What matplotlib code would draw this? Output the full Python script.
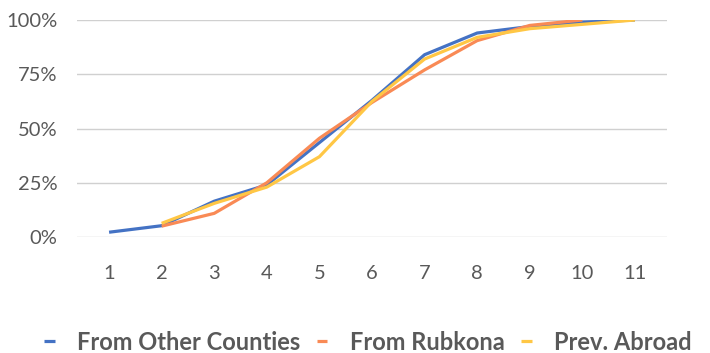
import matplotlib
matplotlib.use("Agg")
import matplotlib.pyplot as plt
from matplotlib.ticker import FuncFormatter

plt.rcParams['font.family'] = ['Lato', 'DejaVu Sans']

steps = [1, 2, 3, 4, 5, 6, 7, 8, 9, 10, 11]
other_counties = [0.022, 0.052, 0.165, 0.24, 0.435, 0.63, 0.84, 0.94, 0.97, 0.99, 1.00]
rubkona = [None, 0.05, 0.109, 0.25, 0.455, 0.62, 0.77, 0.905, 0.975, 1.00, None]
prev_abroad = [None, 0.063, 0.155, 0.23, 0.37, 0.625, 0.82, 0.92, 0.96, 0.98, 1.00]

series_names = ["From Other Counties", "From Rubkona", "Prev. Abroad"]
series_colors = ["#4472C4", "#F98A55", "#FFC745"]
y_ticks = [0, 0.25, 0.5, 0.75, 1.0]

fig = plt.figure(figsize=(7.10, 3.53), dpi=100)
ax = fig.add_axes([77 / 710, 1 - 237 / 353, 590 / 710, 217 / 353])


def trim(xs, ys):
    pts = [(x, y) for x, y in zip(xs, ys) if y is not None]
    return [p[0] for p in pts], [p[1] for p in pts]


handles = []
for name, vals, col in zip(series_names, [other_counties, rubkona, prev_abroad], series_colors):
    xs, ys = trim(steps, vals)
    h, = ax.plot(xs, ys, color=col, lw=2.3, solid_capstyle='butt', label=name)
    handles.append(h)

ax.set_xlim(0.39, 11.61)
ax.set_ylim(0, 1.0)
ax.set_yticks(y_ticks)
ax.yaxis.set_major_formatter(FuncFormatter(lambda v, p: f"{int(round(v * 100))}%"))
ax.set_xticks(steps)
ax.set_xticklabels([str(s) for s in steps])

ax.grid(axis='y', color='#D0D0D0', lw=1.0)
ax.set_axisbelow(True)
for s in ax.spines.values():
    s.set_visible(False)
ax.tick_params(axis='both', length=0, labelsize=14.5, colors='#595959')
ax.tick_params(axis='y', pad=14)
ax.tick_params(axis='x', pad=20)

leg = fig.legend(handles=handles, loc='center left', bbox_to_anchor=(44 / 710, 1 - 342 / 353),
                 ncol=3, frameon=False, handlelength=0.45, handletextpad=0.95,
                 columnspacing=0.7, borderaxespad=0, borderpad=0,
                 prop={'size': 17, 'weight': 'bold'})
for t in leg.get_texts():
    t.set_color('#595959')

fig.savefig("out.png", dpi=100)
